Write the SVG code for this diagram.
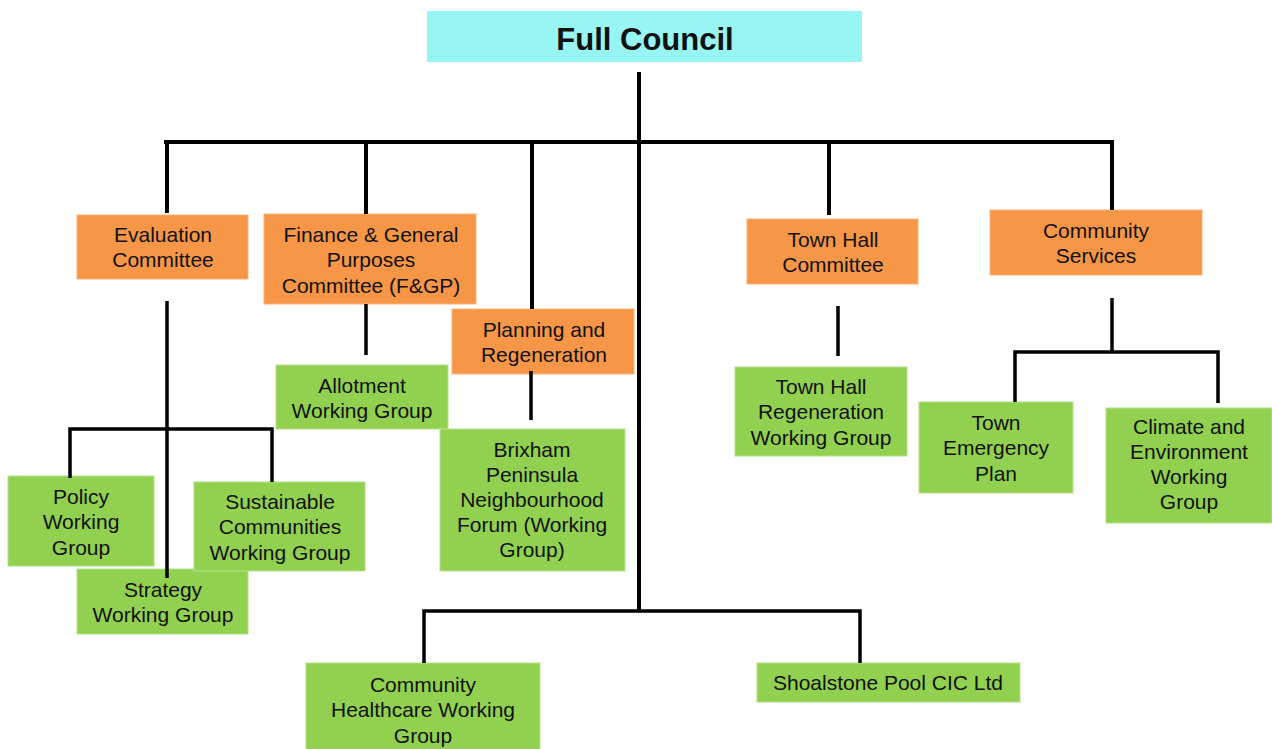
<svg xmlns="http://www.w3.org/2000/svg" width="1272" height="749" viewBox="0 0 1272 749">
<style>
.t{font-family:"Liberation Sans",Arial,sans-serif;font-size:21px;fill:#111;text-anchor:middle}
.h{font-family:"Liberation Sans",Arial,sans-serif;font-size:31px;font-weight:bold;fill:#111;text-anchor:middle}
.o{fill:#F79646;stroke:#FAB27C;stroke-width:1}
.g{fill:#92D050;stroke:#B4E08A;stroke-width:1}
.c{fill:#97F5F4}
.l{stroke:#000;stroke-width:4;fill:none;stroke-linecap:butt}
.s{stroke:#000;stroke-width:3.5;fill:none}
</style>
<rect width="1272" height="749" fill="#fff"/>
<g id="full-council"><rect class="c" x="427" y="11" width="435" height="51"/><text class="h" x="645" y="50">Full Council</text></g>
<g id="evaluation"><rect class="o" x="77" y="215" width="171" height="64"/><text class="t" x="163" y="242">Evaluation</text><text class="t" x="163" y="267">Committee</text></g>
<g id="finance"><rect class="o" x="264" y="214" width="212" height="90"/><text class="t" x="371" y="242">Finance &amp; General</text><text class="t" x="371" y="267">Purposes</text><text class="t" x="371" y="293">Committee (F&amp;GP)</text></g>
<g id="planning"><rect class="o" x="452" y="309" width="182" height="65"/><text class="t" x="544" y="337">Planning and</text><text class="t" x="544" y="362">Regeneration</text></g>
<g id="allotment"><rect class="g" x="276" y="365" width="172" height="64"/><text class="t" x="362" y="393">Allotment</text><text class="t" x="362" y="418">Working Group</text></g>
<g id="brixham"><rect class="g" x="440" y="429" width="185" height="142"/><text class="t" x="532" y="457">Brixham</text><text class="t" x="532" y="482">Peninsula</text><text class="t" x="532" y="507">Neighbourhood</text><text class="t" x="532" y="532">Forum (Working</text><text class="t" x="532" y="557">Group)</text></g>
<g id="policy"><rect class="g" x="8" y="476" width="146" height="90"/><text class="t" x="81" y="504">Policy</text><text class="t" x="81" y="529">Working</text><text class="t" x="81" y="555">Group</text></g>
<g id="strategy"><rect class="g" x="77" y="569" width="171" height="65"/><text class="t" x="163" y="597">Strategy</text><text class="t" x="163" y="622">Working Group</text></g>
<g id="sustainable"><rect class="g" x="194" y="482" width="171" height="89"/><text class="t" x="280" y="509">Sustainable</text><text class="t" x="280" y="534">Communities</text><text class="t" x="280" y="560">Working Group</text></g>
<g id="town-hall-committee"><rect class="o" x="747" y="219" width="171" height="65"/><text class="t" x="833" y="247">Town Hall</text><text class="t" x="833" y="272">Committee</text></g>
<g id="town-hall-regen"><rect class="g" x="735" y="367" width="172" height="89"/><text class="t" x="821" y="394">Town Hall</text><text class="t" x="821" y="419">Regeneration</text><text class="t" x="821" y="445">Working Group</text></g>
<g id="community-services"><rect class="o" x="990" y="210" width="212" height="65"/><text class="t" x="1096" y="238">Community</text><text class="t" x="1096" y="263">Services</text></g>
<g id="emergency"><rect class="g" x="919" y="402" width="154" height="91"/><text class="t" x="996" y="430">Town</text><text class="t" x="996" y="455">Emergency</text><text class="t" x="996" y="481">Plan</text></g>
<g id="climate"><rect class="g" x="1106" y="408" width="166" height="115"/><text class="t" x="1189" y="434">Climate and</text><text class="t" x="1189" y="459">Environment</text><text class="t" x="1189" y="484">Working</text><text class="t" x="1189" y="509">Group</text></g>
<g id="healthcare"><rect class="g" x="306" y="663" width="234" height="93"/><text class="t" x="423" y="692">Community</text><text class="t" x="423" y="717">Healthcare Working</text><text class="t" x="423" y="743">Group</text></g>
<g id="shoalstone"><rect class="g" x="757" y="663" width="263" height="39"/><text class="t" x="888" y="690">Shoalstone Pool CIC Ltd</text></g>
<g id="connectors">
<path class="l" d="M639 72V611M164 142H1114M167 142V213M366 142V214M532 142V309M829 142V215M1112 142V210"/>
<path class="s" d="M424 663V611H860V663"/>
<path class="s" d="M167 301V578M70 478V429H272V482"/>
<path class="s" d="M366 304V355M531 371V420"/>
<path class="s" d="M838 306V356M1112 298V352M1015 402V352H1218V403"/>
</g>
</svg>
